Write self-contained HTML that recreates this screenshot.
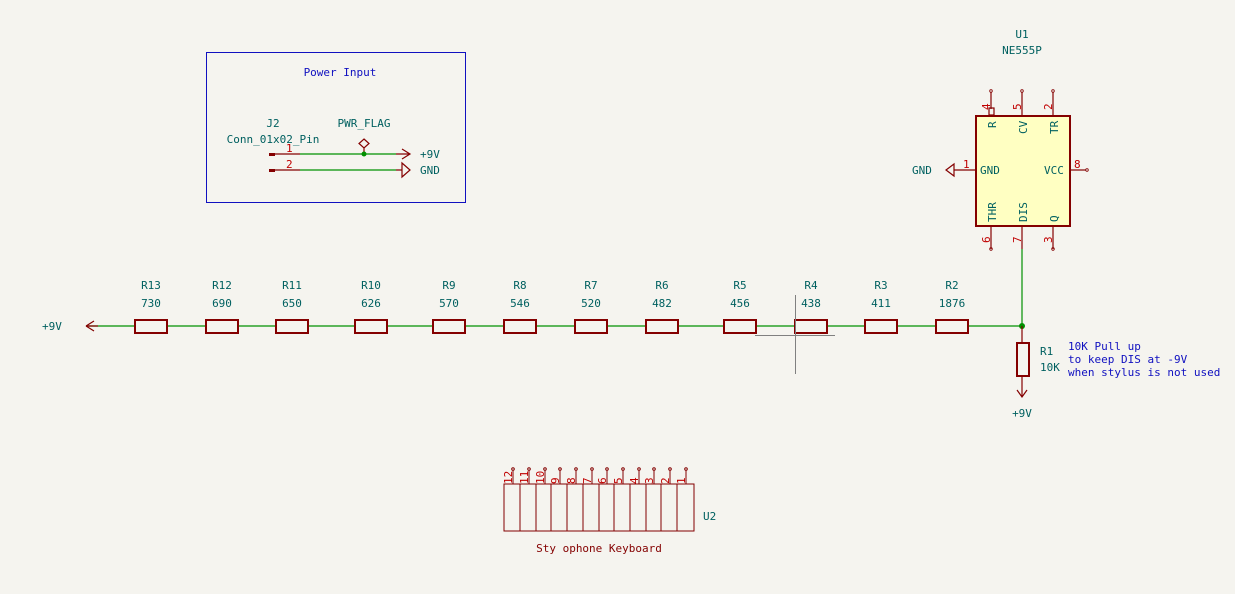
<!DOCTYPE html>
<html><head><style>body{margin:0;background:#f5f4ef}svg{display:block}text{font-family:"DejaVu Sans Mono","Liberation Mono",monospace;font-size:11px}</style></head><body>
<svg width="1235" height="594" viewBox="0 0 1235 594" xmlns="http://www.w3.org/2000/svg">
<rect width="1235" height="594" fill="#f5f4ef"/>
<!-- Power box -->
<rect x="206.5" y="52.5" width="259" height="150" fill="none" stroke="#1010c0" stroke-width="1"/>
<text x="340" y="76" fill="#1010c0" text-anchor="middle">Power Input</text>
<text x="273" y="127" fill="#006060" text-anchor="middle">J2</text>
<text x="273" y="143" fill="#006060" text-anchor="middle">Conn_01x02_Pin</text>
<text x="364" y="127" fill="#006060" text-anchor="middle">PWR_FLAG</text>
<g stroke="#840000" stroke-width="1.2" fill="none">
<line x1="269" y1="154" x2="300" y2="154"/><line x1="269" y1="170" x2="300" y2="170"/>
<path d="M402 149 L410 154 L402 159 M396 154 L410 154"/>
<path d="M402 163 L410 170 L402 177 Z M396 170 L402 170"/>
<path d="M364 139 L369 143.5 L364 148 L359 143.5 Z M364 148 V154"/>
</g>
<rect x="269" y="153" width="6" height="3" fill="#840000"/><rect x="269" y="169" width="6" height="3" fill="#840000"/>
<text x="286" y="152" fill="#c00000">1</text><text x="286" y="168" fill="#c00000">2</text>
<g stroke="#009000" stroke-width="1.2"><line x1="300" y1="154" x2="396" y2="154"/><line x1="300" y1="170" x2="396" y2="170"/></g>
<circle cx="364" cy="154" r="2.5" fill="#009000"/>
<text x="420" y="158" fill="#006060">+9V</text><text x="420" y="174" fill="#006060">GND</text>
<!-- resistor row -->
<line x1="86" y1="326" x2="1022" y2="326" stroke="#009000" stroke-width="1.2"/>
<path d="M86 326 L94 321 M86 326 L94 331 M86 326 L98 326" stroke="#840000" stroke-width="1.2" fill="none"/>
<text x="42" y="330" fill="#006060">+9V</text>
<g fill="#f5f4ef" stroke="#840000" stroke-width="2">
<rect x="135" y="320" width="32" height="13"/><rect x="206" y="320" width="32" height="13"/><rect x="276" y="320" width="32" height="13"/><rect x="355" y="320" width="32" height="13"/><rect x="433" y="320" width="32" height="13"/><rect x="504" y="320" width="32" height="13"/><rect x="575" y="320" width="32" height="13"/><rect x="646" y="320" width="32" height="13"/><rect x="724" y="320" width="32" height="13"/><rect x="795" y="320" width="32" height="13"/><rect x="865" y="320" width="32" height="13"/><rect x="936" y="320" width="32" height="13"/>
</g>
<g fill="#006060" text-anchor="middle">
<text x="151" y="312">R13</text><text x="151" y="307" dy="0"></text>
<text x="222" y="312">R12</text><text x="292" y="312">R11</text><text x="371" y="312">R10</text><text x="449" y="312">R9</text><text x="520" y="312">R8</text><text x="591" y="312">R7</text><text x="662" y="312">R6</text><text x="740" y="312">R5</text><text x="811" y="312">R4</text><text x="881" y="312">R3</text><text x="952" y="312">R2</text>
</g>
<g fill="#006060" text-anchor="middle">
<text x="151" y="296" transform="translate(0,0)"></text>
</g>
<g fill="#006060" text-anchor="middle" font-size="11">
<text x="151" y="288" style="display:none"></text>
</g>
<style>.rl{fill:#006060;text-anchor:middle}</style>
<g>
<text class="rl" x="151" y="289">R13</text><text class="rl" x="222" y="289">R12</text><text class="rl" x="292" y="289">R11</text><text class="rl" x="371" y="289">R10</text><text class="rl" x="449" y="289">R9</text><text class="rl" x="520" y="289">R8</text><text class="rl" x="591" y="289">R7</text><text class="rl" x="662" y="289">R6</text><text class="rl" x="740" y="289">R5</text><text class="rl" x="811" y="289">R4</text><text class="rl" x="881" y="289">R3</text><text class="rl" x="952" y="289">R2</text>
</g>
<rect x="100" y="302" width="900" height="12" fill="#f5f4ef"/>
<g>
<text class="rl" x="151" y="307">730</text><text class="rl" x="222" y="307">690</text><text class="rl" x="292" y="307">650</text><text class="rl" x="371" y="307">626</text><text class="rl" x="449" y="307">570</text><text class="rl" x="520" y="307">546</text><text class="rl" x="591" y="307">520</text><text class="rl" x="662" y="307">482</text><text class="rl" x="740" y="307">456</text><text class="rl" x="811" y="307">438</text><text class="rl" x="881" y="307">411</text><text class="rl" x="952" y="307">1876</text>
</g>
<g stroke="#808080" stroke-width="1"><line x1="795.5" y1="295" x2="795.5" y2="374"/><line x1="755" y1="335.5" x2="835" y2="335.5"/></g>
<!-- 555 -->
<text class="rl" x="1022" y="38">U1</text><text class="rl" x="1022" y="54">NE555P</text>
<rect x="976" y="116" width="94" height="110" fill="#ffffc2" stroke="#840000" stroke-width="2"/>
<g stroke="#840000" stroke-width="1.2" fill="none">
<line x1="991" y1="92" x2="991" y2="109"/><rect x="989" y="108" width="5" height="7"/>
<line x1="1022" y1="92" x2="1022" y2="116"/><line x1="1053" y1="92" x2="1053" y2="116"/>
<line x1="991" y1="226" x2="991" y2="249"/><line x1="1022" y1="226" x2="1022" y2="249"/><line x1="1053" y1="226" x2="1053" y2="249"/>
<line x1="954" y1="170" x2="976" y2="170"/><line x1="1070" y1="170" x2="1086" y2="170"/>
<path d="M954 164 L946 170 L954 176 Z"/>
</g>
<g fill="none" stroke="#840000" stroke-width="0.8"><circle cx="991" cy="91" r="1.3"/><circle cx="1022" cy="91" r="1.3"/><circle cx="1053" cy="91" r="1.3"/><circle cx="991" cy="249" r="1.3"/><circle cx="1053" cy="249" r="1.3"/><circle cx="1087" cy="170" r="1.3"/></g>
<text x="912" y="174" fill="#006060">GND</text>
<text x="963" y="168" fill="#c00000">1</text><text x="1074" y="168" fill="#c00000">8</text>
<text x="980" y="174" fill="#006060">GND</text><text x="1044" y="174" fill="#006060">VCC</text>
<g fill="#c00000"><text transform="translate(990,110) rotate(-90)">4</text><text transform="translate(1021,110) rotate(-90)">5</text><text transform="translate(1052,110) rotate(-90)">2</text>
<text transform="translate(990,243) rotate(-90)">6</text><text transform="translate(1021,243) rotate(-90)">7</text><text transform="translate(1052,243) rotate(-90)">3</text></g>
<g fill="#006060"><text transform="translate(996,128) rotate(-90)">R</text><text transform="translate(1027,134) rotate(-90)">CV</text><text transform="translate(1058,134) rotate(-90)">TR</text>
<text transform="translate(996,222) rotate(-90)">THR</text><text transform="translate(1027,222) rotate(-90)">DIS</text><text transform="translate(1058,222) rotate(-90)">Q</text></g>
<line x1="1022" y1="249" x2="1022" y2="326" stroke="#009000" stroke-width="1.2"/>
<circle cx="1022" cy="326" r="3" fill="#009000"/>
<!-- R1 -->
<g stroke="#840000" stroke-width="1.2" fill="none"><line x1="1022" y1="326" x2="1022" y2="343"/><line x1="1022" y1="376" x2="1022" y2="396"/><path d="M1017 390 L1022 397 L1027 390"/></g>
<rect x="1017" y="343" width="12" height="33" fill="#f5f4ef" stroke="#840000" stroke-width="2"/>
<text x="1040" y="355" fill="#006060">R1</text><text x="1040" y="371" fill="#006060">10K</text>
<text class="rl" x="1022" y="417">+9V</text>
<g fill="#1010c0" font-size="11"><text x="1068" y="350">10K Pull up</text><text x="1068" y="363">to keep DIS at -9V</text><text x="1068" y="376">when stylus is not used</text></g>
<!-- keyboard -->
<rect x="504" y="484" width="190" height="47" fill="none" stroke="#840000" stroke-width="1"/>
<g stroke="#840000" stroke-width="1" fill="none">
<line x1="520" y1="484" x2="520" y2="531"/><line x1="536" y1="484" x2="536" y2="531"/><line x1="551" y1="484" x2="551" y2="531"/><line x1="567" y1="484" x2="567" y2="531"/><line x1="583" y1="484" x2="583" y2="531"/><line x1="599" y1="484" x2="599" y2="531"/><line x1="614" y1="484" x2="614" y2="531"/><line x1="630" y1="484" x2="630" y2="531"/><line x1="646" y1="484" x2="646" y2="531"/><line x1="661" y1="484" x2="661" y2="531"/><line x1="677" y1="484" x2="677" y2="531"/>
<path d="M513 470V484M529 470V484M545 470V484M560 470V484M576 470V484M592 470V484M607 470V484M623 470V484M639 470V484M654 470V484M670 470V484M686 470V484" stroke-width="1"/>
<circle cx="513" cy="469" r="1.3"/><circle cx="529" cy="469" r="1.3"/><circle cx="545" cy="469" r="1.3"/><circle cx="560" cy="469" r="1.3"/><circle cx="576" cy="469" r="1.3"/><circle cx="592" cy="469" r="1.3"/><circle cx="607" cy="469" r="1.3"/><circle cx="623" cy="469" r="1.3"/><circle cx="639" cy="469" r="1.3"/><circle cx="654" cy="469" r="1.3"/><circle cx="670" cy="469" r="1.3"/><circle cx="686" cy="469" r="1.3"/>
</g>
<g fill="#c00000" font-size="10"><text transform="translate(512,484) rotate(-90)">12</text><text transform="translate(528,484) rotate(-90)">11</text><text transform="translate(544,484) rotate(-90)">10</text><text transform="translate(559,484) rotate(-90)">9</text><text transform="translate(575,484) rotate(-90)">8</text><text transform="translate(591,484) rotate(-90)">7</text><text transform="translate(606,484) rotate(-90)">6</text><text transform="translate(622,484) rotate(-90)">5</text><text transform="translate(638,484) rotate(-90)">4</text><text transform="translate(653,484) rotate(-90)">3</text><text transform="translate(669,484) rotate(-90)">2</text><text transform="translate(685,484) rotate(-90)">1</text></g>
<text x="703" y="520" fill="#006060">U2</text>
<text x="599" y="552" fill="#840000" text-anchor="middle" font-size="10.5">Sty ophone Keyboard</text>
</svg>
</body></html>
